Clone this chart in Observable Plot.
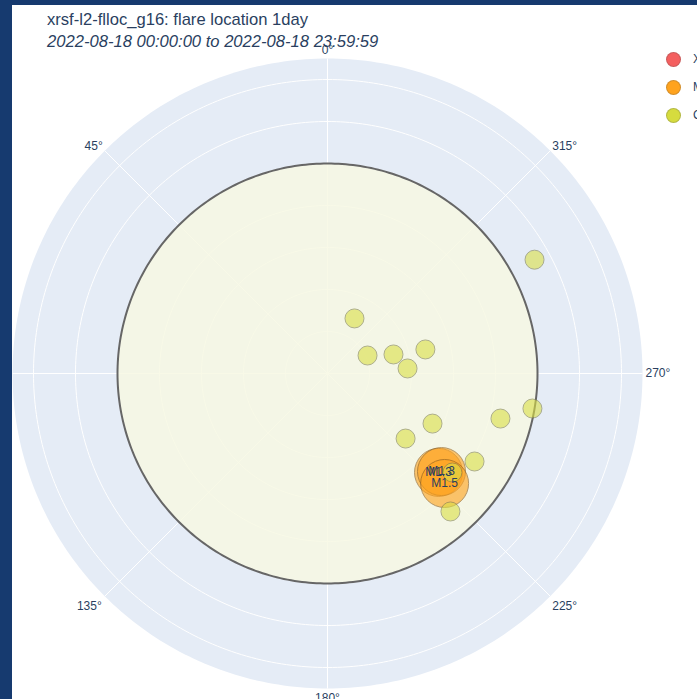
<!DOCTYPE html>
<html>
<head>
<meta charset="utf-8">
<script src="https://cdn.jsdelivr.net/npm/d3@7"></script>
<script src="https://cdn.jsdelivr.net/npm/@observablehq/plot@0.6"></script>
<style>
  html, body { margin: 0; padding: 0; width: 697px; height: 699px; overflow: hidden; background: #163a6f; }
  #panel { position: absolute; left: 12px; top: 5px; width: 700px; height: 700px; background: #ffffff; overflow: hidden;
           font-family: "Liberation Sans", Arial, sans-serif; color: #2a3f5f; }
  #chart { position: absolute; left: 0; top: 0; }
  .title { position: absolute; left: 35px; font-size: 16.6px; line-height: 17px; white-space: nowrap; z-index: 2; }
  #t1 { top: 6px; }
  #t2 { top: 28px; font-style: italic; }
  .leg { position: absolute; left: 654px; height: 16px; display: flex; align-items: center; font-size: 12px; white-space: nowrap; z-index: 2; }
  .leg span.dot { width: 15px; height: 15px; border-radius: 50%; display: inline-block; margin-right: 12px; box-sizing: border-box; }
</style>
</head>
<body>
<div id="panel">
  <div class="title" id="t1"></div>
  <div class="title" id="t2"></div>
  <div id="legend"></div>
  <div id="chart"></div>
</div>
<script>
// ---------- data ----------
const titleText = "xrsf-l2-flloc_g16: flare location 1day";
const subtitleText = "2022-08-18 00:00:00 to 2022-08-18 23:59:59";
const legendClasses = ["X", "M", "C"];
const legendColors = ["#f45f5f", "#ffa31e", "#d6dc3e"];

// C-class flares: position angle (deg, counter-clockwise from north) and radius (solar radii)
const cTheta = [298.8, 333.9, 294.2, 286.1, 283.8, 273.6, 260.3, 255.4, 244.5, 230.2, 239.1, 221.7, 231.6];
const cR     = [1.125, 0.292, 0.209, 0.327, 0.480, 0.382, 0.990, 0.851, 0.554, 0.484, 0.816, 0.880, 0.759];

// M-class flares
const mTheta = [228.3, 229.3, 226.8];
const mR     = [0.708, 0.716, 0.765];
const mLabel = ["M1.3", "M1.3", "M1.5"];

// axes
const angleTicks = [0, 45, 90, 135, 180, 225, 270, 315];
const radialTicks = [0.2, 0.4, 0.6, 0.8, 1.0, 1.2, 1.4];
const radialMax = 1.5;
const sunRadius = 1.0;

// ---------- helpers ----------
const rad = d => d * Math.PI / 180;
const px = (r, t) => -r * Math.sin(rad(t));
const py = (r, t) => r * Math.cos(rad(t));
const ring = (r) => d3.range(0, 361, 1).map(a => ({x: px(r, a), y: py(r, a), key: r}));

const cData = cTheta.map((t, i) => ({theta: t, r: cR[i]}));
const mData = mTheta.map((t, i) => ({theta: t, r: mR[i], label: mLabel[i]}));

function anchorFor(a) {
  switch (a) {
    case 0:   return {textAnchor: "middle", lineAnchor: "bottom", dy: -5};
    case 180: return {textAnchor: "middle", lineAnchor: "top", dy: 5};
    case 90:  return {textAnchor: "end", lineAnchor: "middle", dx: -3};
    case 270: return {textAnchor: "start", lineAnchor: "middle", dx: 3};
    case 45:  return {textAnchor: "end", lineAnchor: "bottom", dx: -2, dy: -1};
    case 315: return {textAnchor: "start", lineAnchor: "bottom", dx: 2, dy: -1};
    case 135: return {textAnchor: "end", lineAnchor: "top", dx: -3, dy: 5};
    case 225: return {textAnchor: "start", lineAnchor: "top", dx: 2, dy: 5};
  }
}

// ---------- titles & legend ----------
document.getElementById("t1").textContent = titleText;
document.getElementById("t2").textContent = subtitleText;
const legendTops = [46, 74, 102];
const legend = document.getElementById("legend");
legendClasses.forEach((c, i) => {
  const div = document.createElement("div");
  div.className = "leg";
  div.style.top = legendTops[i] + "px";
  div.innerHTML = `<span class="dot" style="background:${legendColors[i]};border:1px solid rgba(80,80,80,0.25)"></span><span>${c}</span>`;
  legend.appendChild(div);
});

// ---------- chart ----------
const W = 690, H = 700;
const cx = 315, cy = 368, R = 315;

const plot = Plot.plot({
  width: W,
  height: H,
  margin: 0,
  x: {domain: [-radialMax, radialMax], range: [cx - R, cx + R], axis: null},
  y: {domain: [-radialMax, radialMax], range: [cy + R, cy - R], axis: null},
  style: {fontFamily: '"Liberation Sans", Arial, sans-serif', fontSize: "12px", color: "#2a3f5f", background: "transparent", overflow: "visible"},
  marks: [
    // polar background
    Plot.line(ring(radialMax), {x: "x", y: "y", fill: "#e5ecf6", stroke: "none"}),
    // radial grid rings
    Plot.line(radialTicks.flatMap(r => ring(r)), {x: "x", y: "y", z: "key", stroke: "#ffffff", strokeWidth: 1}),
    // angular grid spokes
    Plot.link(angleTicks, {x1: () => 0, y1: () => 0, x2: a => px(radialMax, a), y2: a => py(radialMax, a), stroke: "#ffffff", strokeWidth: 1}),
    // solar disc
    Plot.line(ring(sunRadius), {x: "x", y: "y", fill: "#f6f8e2", fillOpacity: 0.82, stroke: "#666666", strokeWidth: 2}),
    // angular tick labels
    ...angleTicks.map(a => Plot.text([a], {
      x: d => px(radialMax, d), y: d => py(radialMax, d), text: d => d + "°",
      fill: "#2a3f5f", fontSize: 12, ...anchorFor(a)
    })),
    // M-class flares
    Plot.dot(mData, {x: d => px(d.r, d.theta), y: d => py(d.r, d.theta), r: 24, fill: "#ffa31e", stroke: "#8a5a1a", strokeWidth: 1, opacity: 0.62}),
    // C-class flares
    Plot.dot(cData, {x: d => px(d.r, d.theta), y: d => py(d.r, d.theta), r: 9.5, fill: "#dadf46", stroke: "#7f8050", strokeWidth: 1, opacity: 0.6}),
    // M-class labels on top
    Plot.text(mData, {x: d => px(d.r, d.theta), y: d => py(d.r, d.theta), text: "label", fill: "#2a3f5f", fontSize: 12})
  ]
});
document.getElementById("chart").appendChild(plot);
</script>
</body>
</html>
